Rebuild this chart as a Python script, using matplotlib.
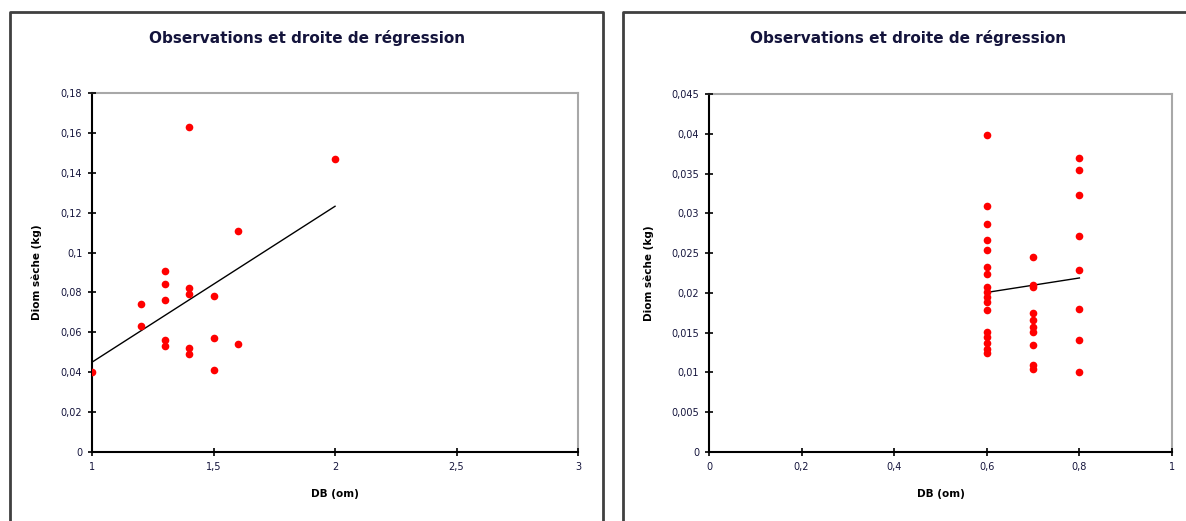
import numpy as np
import matplotlib
matplotlib.use('Agg')
import matplotlib.pyplot as plt
from matplotlib.ticker import FuncFormatter, MultipleLocator
from matplotlib.lines import Line2D

# donnees
db_1 = [1.0, 1.2, 1.2, 1.3, 1.3, 1.3, 1.3, 1.3, 1.4, 1.4, 1.4, 1.4, 1.4,
        1.5, 1.5, 1.5, 1.6, 1.6, 2.0]
biom_1 = [0.040, 0.074, 0.063, 0.091, 0.084, 0.076, 0.056, 0.053, 0.163,
          0.082, 0.079, 0.052, 0.049, 0.078, 0.057, 0.041, 0.111, 0.054, 0.147]

db_2 = [0.6] * 17 + [0.7] * 10 + [0.8] * 8
biom_2 = [0.0398, 0.0309, 0.0287, 0.0266, 0.0254, 0.0233, 0.0224, 0.0208,
          0.0201, 0.0195, 0.0189, 0.0178, 0.0151, 0.0144, 0.0137, 0.0130, 0.0125,
          0.0245, 0.0210, 0.0208, 0.0175, 0.0166, 0.0157, 0.0151, 0.0134,
          0.0109, 0.0104,
          0.0369, 0.0355, 0.0323, 0.0271, 0.0229, 0.0180, 0.0141, 0.0101]

titre = 'Observations et droite de régression'
ylab = 'Diom sèche (kg)'
xlab = 'DB (om)'
txt_col = '#14143c'

virgule = FuncFormatter(lambda v, p: ('%g' % round(v, 6)).replace('.', ','))

fig = plt.figure(figsize=(11.86, 5.21), dpi=100)

# cadres des deux graphiques
for xs, ys in [([0.0084, 0.0084, 0.5084, 0.5084], [-0.1, 0.977, 0.977, -0.1]),
               ([0.5253, 0.5253, 1.1], [-0.1, 0.977, 0.977])]:
    fig.add_artist(Line2D(xs, ys, transform=fig.transFigure, color='#404040', lw=2))


def panneau(rect, x, y, xlim, xstep, ylim, ystep, tx, lx):
    ax = fig.add_axes(rect)
    ax.plot(x, y, 'o', color='red', markersize=5.5, markeredgewidth=0, zorder=3)
    a, b = np.polyfit(x, y, 1)
    xx = np.array([min(x), max(x)])
    ax.plot(xx, a * xx + b, color='black', lw=1, zorder=2)
    ax.set_xlim(xlim)
    ax.set_ylim(ylim)
    ax.xaxis.set_major_locator(MultipleLocator(xstep))
    ax.yaxis.set_major_locator(MultipleLocator(ystep))
    ax.xaxis.set_major_formatter(virgule)
    ax.yaxis.set_major_formatter(virgule)
    ax.tick_params(direction='inout', length=6, width=1.2, labelsize=7,
                   labelcolor=txt_col, pad=4)
    for s in ['left', 'bottom']:
        ax.spines[s].set_color('black')
        ax.spines[s].set_linewidth(1.5)
    for s in ['top', 'right']:
        ax.spines[s].set_color('#a8a8a8')
        ax.spines[s].set_linewidth(1.5)
    for s in ax.spines.values():
        s.set_zorder(1)
    fig.text(tx, 0.927, titre, ha='center', va='center', fontsize=11,
             fontweight='bold', color=txt_col)
    fig.text(lx, rect[1] + rect[3] / 2, ylab, rotation=90, ha='center',
             va='center', fontsize=7.5, fontweight='bold', color='black')
    fig.text(rect[0] + rect[2] / 2, 0.052, xlab, ha='center', va='center',
             fontsize=7.5, fontweight='bold', color='black')
    return ax


panneau([0.0776, 0.1324, 0.4098, 0.6891], db_1, biom_1, (1, 3), 0.5,
        (0, 0.18), 0.02, 0.259, 0.031)
panneau([0.5978, 0.1324, 0.3904, 0.6872], db_2, biom_2, (0, 1), 0.2,
        (0, 0.045), 0.005, 0.766, 0.547)

plt.savefig('out.png', dpi=100)
